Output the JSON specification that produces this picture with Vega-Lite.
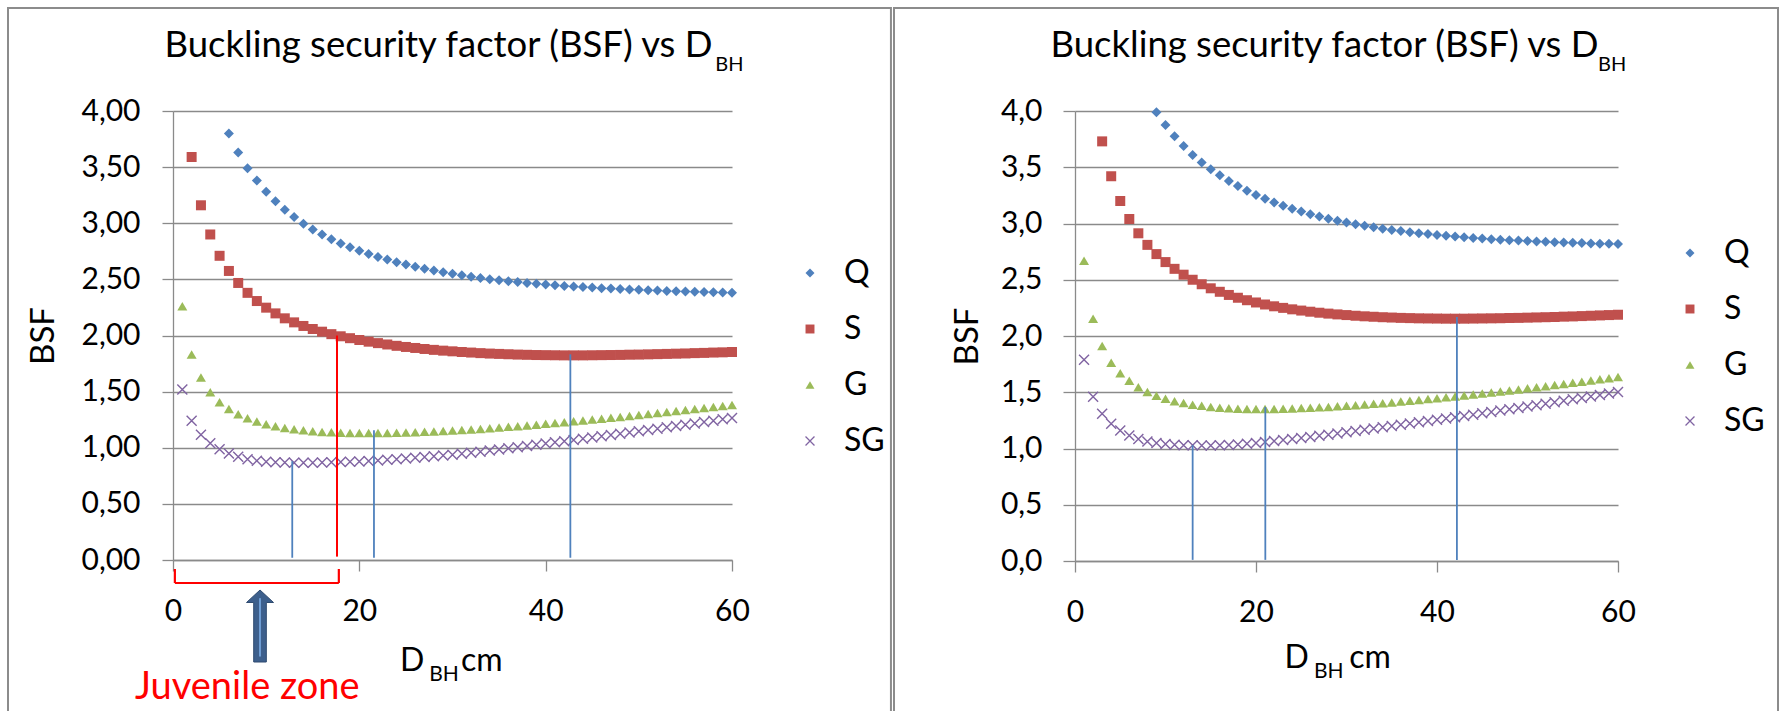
{
  "$schema": "https://vega.github.io/schema/vega-lite/v6.json",
  "background": "white",
  "padding": {"left": 7, "top": 6, "right": 0, "bottom": 0},
  "spacing": 1,
  "config": {
    "font": "Lato",
    "view": {"stroke": null},
    "axis": {
      "labelFont": "Lato", "labelColor": "black", "labelFontSize": 30,
      "titleFont": "Lato", "titleColor": "black", "titleFontWeight": "normal", "titleFontSize": 33,
      "domainColor": "#8a8a8a", "domainWidth": 1.3, "tickColor": "#8a8a8a", "tickWidth": 1.3,
      "gridColor": "#8a8a8a", "gridWidth": 1.3, "labelFlush": false
    },
    "legend": {"labelFont": "Lato", "labelFontSize": 32, "labelColor": "black", "padding": 0}
  },
  "datasets": {
    "one": [{}],
    "L": [
      {"series":"Q","D":6,"BSF":3.80},{"series":"Q","D":7,"BSF":3.63},{"series":"Q","D":8,"BSF":3.49},{"series":"Q","D":9,"BSF":3.38},{"series":"Q","D":10,"BSF":3.28},{"series":"Q","D":11,"BSF":3.195},{"series":"Q","D":12,"BSF":3.12},{"series":"Q","D":13,"BSF":3.055},{"series":"Q","D":14,"BSF":2.995},{"series":"Q","D":15,"BSF":2.945},{"series":"Q","D":16,"BSF":2.90},{"series":"Q","D":17,"BSF":2.857},{"series":"Q","D":18,"BSF":2.82},{"series":"Q","D":19,"BSF":2.787},{"series":"Q","D":20,"BSF":2.756},{"series":"Q","D":21,"BSF":2.727},{"series":"Q","D":22,"BSF":2.70},{"series":"Q","D":23,"BSF":2.676},{"series":"Q","D":24,"BSF":2.653},{"series":"Q","D":25,"BSF":2.632},{"series":"Q","D":26,"BSF":2.613},{"series":"Q","D":27,"BSF":2.595},{"series":"Q","D":28,"BSF":2.578},{"series":"Q","D":29,"BSF":2.563},{"series":"Q","D":30,"BSF":2.549},{"series":"Q","D":31,"BSF":2.536},{"series":"Q","D":32,"BSF":2.524},{"series":"Q","D":33,"BSF":2.513},{"series":"Q","D":34,"BSF":2.502},{"series":"Q","D":35,"BSF":2.493},{"series":"Q","D":36,"BSF":2.484},{"series":"Q","D":37,"BSF":2.476},{"series":"Q","D":38,"BSF":2.468},{"series":"Q","D":39,"BSF":2.461},{"series":"Q","D":40,"BSF":2.454},{"series":"Q","D":41,"BSF":2.448},{"series":"Q","D":42,"BSF":2.442},{"series":"Q","D":43,"BSF":2.437},{"series":"Q","D":44,"BSF":2.432},{"series":"Q","D":45,"BSF":2.427},{"series":"Q","D":46,"BSF":2.422},{"series":"Q","D":47,"BSF":2.418},{"series":"Q","D":48,"BSF":2.414},{"series":"Q","D":49,"BSF":2.41},{"series":"Q","D":50,"BSF":2.407},{"series":"Q","D":51,"BSF":2.403},{"series":"Q","D":52,"BSF":2.40},{"series":"Q","D":53,"BSF":2.397},{"series":"Q","D":54,"BSF":2.394},{"series":"Q","D":55,"BSF":2.392},{"series":"Q","D":56,"BSF":2.389},{"series":"Q","D":57,"BSF":2.387},{"series":"Q","D":58,"BSF":2.385},{"series":"Q","D":59,"BSF":2.383},{"series":"Q","D":60,"BSF":2.381},
      {"series":"S","D":2,"BSF":3.59},{"series":"S","D":3,"BSF":3.16},{"series":"S","D":4,"BSF":2.90},{"series":"S","D":5,"BSF":2.71},{"series":"S","D":6,"BSF":2.575},{"series":"S","D":7,"BSF":2.468},{"series":"S","D":8,"BSF":2.38},{"series":"S","D":9,"BSF":2.307},{"series":"S","D":10,"BSF":2.248},{"series":"S","D":11,"BSF":2.197},{"series":"S","D":12,"BSF":2.153},{"series":"S","D":13,"BSF":2.117},{"series":"S","D":14,"BSF":2.085},{"series":"S","D":15,"BSF":2.058},{"series":"S","D":16,"BSF":2.034},{"series":"S","D":17,"BSF":2.012},{"series":"S","D":18,"BSF":1.993},{"series":"S","D":19,"BSF":1.976},{"series":"S","D":20,"BSF":1.96},{"series":"S","D":21,"BSF":1.945},{"series":"S","D":22,"BSF":1.932},{"series":"S","D":23,"BSF":1.92},{"series":"S","D":24,"BSF":1.908},{"series":"S","D":25,"BSF":1.898},{"series":"S","D":26,"BSF":1.889},{"series":"S","D":27,"BSF":1.88},{"series":"S","D":28,"BSF":1.872},{"series":"S","D":29,"BSF":1.865},{"series":"S","D":30,"BSF":1.859},{"series":"S","D":31,"BSF":1.853},{"series":"S","D":32,"BSF":1.848},{"series":"S","D":33,"BSF":1.843},{"series":"S","D":34,"BSF":1.839},{"series":"S","D":35,"BSF":1.836},{"series":"S","D":36,"BSF":1.833},{"series":"S","D":37,"BSF":1.83},{"series":"S","D":38,"BSF":1.828},{"series":"S","D":39,"BSF":1.826},{"series":"S","D":40,"BSF":1.825},{"series":"S","D":41,"BSF":1.824},{"series":"S","D":42,"BSF":1.823},{"series":"S","D":43,"BSF":1.823},{"series":"S","D":44,"BSF":1.823},{"series":"S","D":45,"BSF":1.824},{"series":"S","D":46,"BSF":1.825},{"series":"S","D":47,"BSF":1.826},{"series":"S","D":48,"BSF":1.827},{"series":"S","D":49,"BSF":1.829},{"series":"S","D":50,"BSF":1.83},{"series":"S","D":51,"BSF":1.832},{"series":"S","D":52,"BSF":1.834},{"series":"S","D":53,"BSF":1.836},{"series":"S","D":54,"BSF":1.838},{"series":"S","D":55,"BSF":1.84},{"series":"S","D":56,"BSF":1.843},{"series":"S","D":57,"BSF":1.845},{"series":"S","D":58,"BSF":1.848},{"series":"S","D":59,"BSF":1.85},{"series":"S","D":60,"BSF":1.853},
      {"series":"G","D":1,"BSF":2.26},{"series":"G","D":2,"BSF":1.83},{"series":"G","D":3,"BSF":1.625},{"series":"G","D":4,"BSF":1.495},{"series":"G","D":5,"BSF":1.405},{"series":"G","D":6,"BSF":1.345},{"series":"G","D":7,"BSF":1.298},{"series":"G","D":8,"BSF":1.262},{"series":"G","D":9,"BSF":1.233},{"series":"G","D":10,"BSF":1.21},{"series":"G","D":11,"BSF":1.192},{"series":"G","D":12,"BSF":1.177},{"series":"G","D":13,"BSF":1.165},{"series":"G","D":14,"BSF":1.155},{"series":"G","D":15,"BSF":1.147},{"series":"G","D":16,"BSF":1.141},{"series":"G","D":17,"BSF":1.137},{"series":"G","D":18,"BSF":1.134},{"series":"G","D":19,"BSF":1.132},{"series":"G","D":20,"BSF":1.131},{"series":"G","D":21,"BSF":1.131},{"series":"G","D":22,"BSF":1.131},{"series":"G","D":23,"BSF":1.132},{"series":"G","D":24,"BSF":1.134},{"series":"G","D":25,"BSF":1.136},{"series":"G","D":26,"BSF":1.139},{"series":"G","D":27,"BSF":1.142},{"series":"G","D":28,"BSF":1.145},{"series":"G","D":29,"BSF":1.149},{"series":"G","D":30,"BSF":1.153},{"series":"G","D":31,"BSF":1.158},{"series":"G","D":32,"BSF":1.163},{"series":"G","D":33,"BSF":1.168},{"series":"G","D":34,"BSF":1.174},{"series":"G","D":35,"BSF":1.18},{"series":"G","D":36,"BSF":1.186},{"series":"G","D":37,"BSF":1.192},{"series":"G","D":38,"BSF":1.199},{"series":"G","D":39,"BSF":1.206},{"series":"G","D":40,"BSF":1.213},{"series":"G","D":41,"BSF":1.22},{"series":"G","D":42,"BSF":1.227},{"series":"G","D":43,"BSF":1.235},{"series":"G","D":44,"BSF":1.243},{"series":"G","D":45,"BSF":1.251},{"series":"G","D":46,"BSF":1.259},{"series":"G","D":47,"BSF":1.267},{"series":"G","D":48,"BSF":1.275},{"series":"G","D":49,"BSF":1.283},{"series":"G","D":50,"BSF":1.292},{"series":"G","D":51,"BSF":1.3},{"series":"G","D":52,"BSF":1.309},{"series":"G","D":53,"BSF":1.318},{"series":"G","D":54,"BSF":1.327},{"series":"G","D":55,"BSF":1.336},{"series":"G","D":56,"BSF":1.345},{"series":"G","D":57,"BSF":1.354},{"series":"G","D":58,"BSF":1.363},{"series":"G","D":59,"BSF":1.372},{"series":"G","D":60,"BSF":1.381},
      {"series":"SG","D":1,"BSF":1.52},{"series":"SG","D":2,"BSF":1.24},{"series":"SG","D":3,"BSF":1.115},{"series":"SG","D":4,"BSF":1.04},{"series":"SG","D":5,"BSF":0.987},{"series":"SG","D":6,"BSF":0.948},{"series":"SG","D":7,"BSF":0.919},{"series":"SG","D":8,"BSF":0.898},{"series":"SG","D":9,"BSF":0.884},{"series":"SG","D":10,"BSF":0.876},{"series":"SG","D":11,"BSF":0.871},{"series":"SG","D":12,"BSF":0.868},{"series":"SG","D":13,"BSF":0.867},{"series":"SG","D":14,"BSF":0.867},{"series":"SG","D":15,"BSF":0.867},{"series":"SG","D":16,"BSF":0.868},{"series":"SG","D":17,"BSF":0.87},{"series":"SG","D":18,"BSF":0.872},{"series":"SG","D":19,"BSF":0.875},{"series":"SG","D":20,"BSF":0.878},{"series":"SG","D":21,"BSF":0.882},{"series":"SG","D":22,"BSF":0.887},{"series":"SG","D":23,"BSF":0.892},{"series":"SG","D":24,"BSF":0.898},{"series":"SG","D":25,"BSF":0.904},{"series":"SG","D":26,"BSF":0.91},{"series":"SG","D":27,"BSF":0.917},{"series":"SG","D":28,"BSF":0.924},{"series":"SG","D":29,"BSF":0.931},{"series":"SG","D":30,"BSF":0.938},{"series":"SG","D":31,"BSF":0.947},{"series":"SG","D":32,"BSF":0.956},{"series":"SG","D":33,"BSF":0.965},{"series":"SG","D":34,"BSF":0.975},{"series":"SG","D":35,"BSF":0.985},{"series":"SG","D":36,"BSF":0.995},{"series":"SG","D":37,"BSF":1.005},{"series":"SG","D":38,"BSF":1.015},{"series":"SG","D":39,"BSF":1.026},{"series":"SG","D":40,"BSF":1.037},{"series":"SG","D":41,"BSF":1.048},{"series":"SG","D":42,"BSF":1.059},{"series":"SG","D":43,"BSF":1.07},{"series":"SG","D":44,"BSF":1.081},{"series":"SG","D":45,"BSF":1.092},{"series":"SG","D":46,"BSF":1.103},{"series":"SG","D":47,"BSF":1.114},{"series":"SG","D":48,"BSF":1.125},{"series":"SG","D":49,"BSF":1.136},{"series":"SG","D":50,"BSF":1.148},{"series":"SG","D":51,"BSF":1.159},{"series":"SG","D":52,"BSF":1.17},{"series":"SG","D":53,"BSF":1.182},{"series":"SG","D":54,"BSF":1.193},{"series":"SG","D":55,"BSF":1.205},{"series":"SG","D":56,"BSF":1.217},{"series":"SG","D":57,"BSF":1.229},{"series":"SG","D":58,"BSF":1.241},{"series":"SG","D":59,"BSF":1.253},{"series":"SG","D":60,"BSF":1.266}
    ],
    "R": [
      {"series":"Q","D":9,"BSF":3.99},{"series":"Q","D":10,"BSF":3.875},{"series":"Q","D":11,"BSF":3.775},{"series":"Q","D":12,"BSF":3.688},{"series":"Q","D":13,"BSF":3.61},{"series":"Q","D":14,"BSF":3.543},{"series":"Q","D":15,"BSF":3.483},{"series":"Q","D":16,"BSF":3.428},{"series":"Q","D":17,"BSF":3.378},{"series":"Q","D":18,"BSF":3.333},{"series":"Q","D":19,"BSF":3.292},{"series":"Q","D":20,"BSF":3.254},{"series":"Q","D":21,"BSF":3.219},{"series":"Q","D":22,"BSF":3.187},{"series":"Q","D":23,"BSF":3.158},{"series":"Q","D":24,"BSF":3.131},{"series":"Q","D":25,"BSF":3.106},{"series":"Q","D":26,"BSF":3.083},{"series":"Q","D":27,"BSF":3.062},{"series":"Q","D":28,"BSF":3.042},{"series":"Q","D":29,"BSF":3.024},{"series":"Q","D":30,"BSF":3.008},{"series":"Q","D":31,"BSF":2.993},{"series":"Q","D":32,"BSF":2.979},{"series":"Q","D":33,"BSF":2.966},{"series":"Q","D":34,"BSF":2.954},{"series":"Q","D":35,"BSF":2.943},{"series":"Q","D":36,"BSF":2.933},{"series":"Q","D":37,"BSF":2.923},{"series":"Q","D":38,"BSF":2.914},{"series":"Q","D":39,"BSF":2.906},{"series":"Q","D":40,"BSF":2.898},{"series":"Q","D":41,"BSF":2.891},{"series":"Q","D":42,"BSF":2.884},{"series":"Q","D":43,"BSF":2.878},{"series":"Q","D":44,"BSF":2.872},{"series":"Q","D":45,"BSF":2.866},{"series":"Q","D":46,"BSF":2.861},{"series":"Q","D":47,"BSF":2.856},{"series":"Q","D":48,"BSF":2.852},{"series":"Q","D":49,"BSF":2.848},{"series":"Q","D":50,"BSF":2.844},{"series":"Q","D":51,"BSF":2.84},{"series":"Q","D":52,"BSF":2.837},{"series":"Q","D":53,"BSF":2.834},{"series":"Q","D":54,"BSF":2.831},{"series":"Q","D":55,"BSF":2.828},{"series":"Q","D":56,"BSF":2.826},{"series":"Q","D":57,"BSF":2.823},{"series":"Q","D":58,"BSF":2.821},{"series":"Q","D":59,"BSF":2.819},{"series":"Q","D":60,"BSF":2.817},
      {"series":"S","D":3,"BSF":3.73},{"series":"S","D":4,"BSF":3.42},{"series":"S","D":5,"BSF":3.20},{"series":"S","D":6,"BSF":3.04},{"series":"S","D":7,"BSF":2.913},{"series":"S","D":8,"BSF":2.81},{"series":"S","D":9,"BSF":2.728},{"series":"S","D":10,"BSF":2.657},{"series":"S","D":11,"BSF":2.597},{"series":"S","D":12,"BSF":2.545},{"series":"S","D":13,"BSF":2.5},{"series":"S","D":14,"BSF":2.46},{"series":"S","D":15,"BSF":2.424},{"series":"S","D":16,"BSF":2.393},{"series":"S","D":17,"BSF":2.365},{"series":"S","D":18,"BSF":2.34},{"series":"S","D":19,"BSF":2.318},{"series":"S","D":20,"BSF":2.298},{"series":"S","D":21,"BSF":2.28},{"series":"S","D":22,"BSF":2.264},{"series":"S","D":23,"BSF":2.25},{"series":"S","D":24,"BSF":2.237},{"series":"S","D":25,"BSF":2.226},{"series":"S","D":26,"BSF":2.216},{"series":"S","D":27,"BSF":2.207},{"series":"S","D":28,"BSF":2.199},{"series":"S","D":29,"BSF":2.192},{"series":"S","D":30,"BSF":2.186},{"series":"S","D":31,"BSF":2.18},{"series":"S","D":32,"BSF":2.175},{"series":"S","D":33,"BSF":2.171},{"series":"S","D":34,"BSF":2.167},{"series":"S","D":35,"BSF":2.164},{"series":"S","D":36,"BSF":2.161},{"series":"S","D":37,"BSF":2.159},{"series":"S","D":38,"BSF":2.157},{"series":"S","D":39,"BSF":2.156},{"series":"S","D":40,"BSF":2.155},{"series":"S","D":41,"BSF":2.154},{"series":"S","D":42,"BSF":2.154},{"series":"S","D":43,"BSF":2.154},{"series":"S","D":44,"BSF":2.155},{"series":"S","D":45,"BSF":2.156},{"series":"S","D":46,"BSF":2.157},{"series":"S","D":47,"BSF":2.158},{"series":"S","D":48,"BSF":2.16},{"series":"S","D":49,"BSF":2.161},{"series":"S","D":50,"BSF":2.163},{"series":"S","D":51,"BSF":2.165},{"series":"S","D":52,"BSF":2.167},{"series":"S","D":53,"BSF":2.169},{"series":"S","D":54,"BSF":2.172},{"series":"S","D":55,"BSF":2.174},{"series":"S","D":56,"BSF":2.177},{"series":"S","D":57,"BSF":2.18},{"series":"S","D":58,"BSF":2.183},{"series":"S","D":59,"BSF":2.186},{"series":"S","D":60,"BSF":2.189},
      {"series":"G","D":1,"BSF":2.668},{"series":"G","D":2,"BSF":2.153},{"series":"G","D":3,"BSF":1.911},{"series":"G","D":4,"BSF":1.763},{"series":"G","D":5,"BSF":1.67},{"series":"G","D":6,"BSF":1.602},{"series":"G","D":7,"BSF":1.545},{"series":"G","D":8,"BSF":1.503},{"series":"G","D":9,"BSF":1.47},{"series":"G","D":10,"BSF":1.443},{"series":"G","D":11,"BSF":1.421},{"series":"G","D":12,"BSF":1.404},{"series":"G","D":13,"BSF":1.39},{"series":"G","D":14,"BSF":1.379},{"series":"G","D":15,"BSF":1.37},{"series":"G","D":16,"BSF":1.363},{"series":"G","D":17,"BSF":1.358},{"series":"G","D":18,"BSF":1.354},{"series":"G","D":19,"BSF":1.352},{"series":"G","D":20,"BSF":1.351},{"series":"G","D":21,"BSF":1.351},{"series":"G","D":22,"BSF":1.352},{"series":"G","D":23,"BSF":1.354},{"series":"G","D":24,"BSF":1.356},{"series":"G","D":25,"BSF":1.359},{"series":"G","D":26,"BSF":1.362},{"series":"G","D":27,"BSF":1.366},{"series":"G","D":28,"BSF":1.37},{"series":"G","D":29,"BSF":1.375},{"series":"G","D":30,"BSF":1.38},{"series":"G","D":31,"BSF":1.385},{"series":"G","D":32,"BSF":1.391},{"series":"G","D":33,"BSF":1.397},{"series":"G","D":34,"BSF":1.403},{"series":"G","D":35,"BSF":1.41},{"series":"G","D":36,"BSF":1.417},{"series":"G","D":37,"BSF":1.424},{"series":"G","D":38,"BSF":1.431},{"series":"G","D":39,"BSF":1.439},{"series":"G","D":40,"BSF":1.447},{"series":"G","D":41,"BSF":1.455},{"series":"G","D":42,"BSF":1.463},{"series":"G","D":43,"BSF":1.471},{"series":"G","D":44,"BSF":1.48},{"series":"G","D":45,"BSF":1.489},{"series":"G","D":46,"BSF":1.498},{"series":"G","D":47,"BSF":1.507},{"series":"G","D":48,"BSF":1.516},{"series":"G","D":49,"BSF":1.525},{"series":"G","D":50,"BSF":1.535},{"series":"G","D":51,"BSF":1.544},{"series":"G","D":52,"BSF":1.554},{"series":"G","D":53,"BSF":1.564},{"series":"G","D":54,"BSF":1.574},{"series":"G","D":55,"BSF":1.584},{"series":"G","D":56,"BSF":1.594},{"series":"G","D":57,"BSF":1.604},{"series":"G","D":58,"BSF":1.615},{"series":"G","D":59,"BSF":1.625},{"series":"G","D":60,"BSF":1.636},
      {"series":"SG","D":1,"BSF":1.79},{"series":"SG","D":2,"BSF":1.461},{"series":"SG","D":3,"BSF":1.308},{"series":"SG","D":4,"BSF":1.219},{"series":"SG","D":5,"BSF":1.16},{"series":"SG","D":6,"BSF":1.116},{"series":"SG","D":7,"BSF":1.084},{"series":"SG","D":8,"BSF":1.063},{"series":"SG","D":9,"BSF":1.048},{"series":"SG","D":10,"BSF":1.039},{"series":"SG","D":11,"BSF":1.033},{"series":"SG","D":12,"BSF":1.03},{"series":"SG","D":13,"BSF":1.028},{"series":"SG","D":14,"BSF":1.027},{"series":"SG","D":15,"BSF":1.027},{"series":"SG","D":16,"BSF":1.028},{"series":"SG","D":17,"BSF":1.031},{"series":"SG","D":18,"BSF":1.036},{"series":"SG","D":19,"BSF":1.042},{"series":"SG","D":20,"BSF":1.049},{"series":"SG","D":21,"BSF":1.057},{"series":"SG","D":22,"BSF":1.066},{"series":"SG","D":23,"BSF":1.075},{"series":"SG","D":24,"BSF":1.084},{"series":"SG","D":25,"BSF":1.093},{"series":"SG","D":26,"BSF":1.103},{"series":"SG","D":27,"BSF":1.113},{"series":"SG","D":28,"BSF":1.123},{"series":"SG","D":29,"BSF":1.134},{"series":"SG","D":30,"BSF":1.145},{"series":"SG","D":31,"BSF":1.156},{"series":"SG","D":32,"BSF":1.167},{"series":"SG","D":33,"BSF":1.178},{"series":"SG","D":34,"BSF":1.189},{"series":"SG","D":35,"BSF":1.2},{"series":"SG","D":36,"BSF":1.211},{"series":"SG","D":37,"BSF":1.222},{"series":"SG","D":38,"BSF":1.233},{"series":"SG","D":39,"BSF":1.244},{"series":"SG","D":40,"BSF":1.255},{"series":"SG","D":41,"BSF":1.266},{"series":"SG","D":42,"BSF":1.277},{"series":"SG","D":43,"BSF":1.289},{"series":"SG","D":44,"BSF":1.301},{"series":"SG","D":45,"BSF":1.313},{"series":"SG","D":46,"BSF":1.325},{"series":"SG","D":47,"BSF":1.337},{"series":"SG","D":48,"BSF":1.349},{"series":"SG","D":49,"BSF":1.361},{"series":"SG","D":50,"BSF":1.373},{"series":"SG","D":51,"BSF":1.385},{"series":"SG","D":52,"BSF":1.398},{"series":"SG","D":53,"BSF":1.411},{"series":"SG","D":54,"BSF":1.424},{"series":"SG","D":55,"BSF":1.437},{"series":"SG","D":56,"BSF":1.45},{"series":"SG","D":57,"BSF":1.463},{"series":"SG","D":58,"BSF":1.476},{"series":"SG","D":59,"BSF":1.489},{"series":"SG","D":60,"BSF":1.502}
    ],
    "Lmin": [{"D":12.8,"top":0.88},{"D":21.57,"top":1.155},{"D":42.65,"top":1.832}],
    "Rmin": [{"D":13.0,"top":1.03},{"D":21.03,"top":1.37},{"D":42.2,"top":2.17}]
  },
  "resolve": {
    "scale": {"x": "independent", "y": "independent", "color": "independent", "shape": "independent"},
    "legend": {"color": "independent", "shape": "independent"}
  },
  "hconcat": [
    {
      "width": 559,
      "height": 449,
      "title": {"text": "Buckling security factor (BSF) vs D", "frame": "group", "anchor": "middle", "font": "Lato", "fontSize": 36.5, "fontWeight": "normal", "color": "black", "dx": -14, "offset": -58},
      "layer": [
        {
          "data": {"name": "one"},
          "mark": {"type": "rect", "fill": null, "stroke": "#8c8c8c", "strokeWidth": 2},
          "encoding": {
            "x": {"datum": -17.71, "type": "quantitative", "scale": {"domain": [0, 60], "nice": false, "zero": false}},
            "x2": {"datum": 77.06},
            "y": {"datum": 4.918, "type": "quantitative", "scale": {"domain": [0, 4], "nice": false, "zero": false}},
            "y2": {"datum": -1.52}
          }
        },
        {
          "data": {"name": "L"},
          "mark": {"type": "point", "filled": true, "opacity": 1, "size": 100},
          "encoding": {
            "x": {"field": "D", "type": "quantitative", "scale": {"domain": [0, 60], "nice": false, "zero": false},
                  "axis": {"values": [0, 20, 40, 60], "grid": false, "title": null, "tickSize": 11, "labelPadding": 25, "format": "d", "labelFlush": false}},
            "y": {"field": "BSF", "type": "quantitative", "scale": {"domain": [0, 4], "nice": false, "zero": false},
                  "axis": {"values": [0, 0.5, 1, 1.5, 2, 2.5, 3, 3.5, 4], "grid": true, "title": "BSF", "tickSize": 11, "labelPadding": 22, "titlePadding": 20,
                           "labelExpr": "replace(format(datum.value, '.2f'), '.', ',')"}},
            "color": {"field": "series", "type": "nominal",
                      "scale": {"domain": ["Q", "S", "G", "SG"], "range": ["#4F81BD", "#C0504D", "#9BBB59", "#8064A2"]},
                      "legend": {"orient": "none", "legendX": 621, "legendY": 146, "title": null, "symbolSize": 80, "rowPadding": 24, "labelOffset": 18, "labelFontSize": 32}},
            "shape": {"field": "series", "type": "nominal",
                      "scale": {"domain": ["Q", "S", "G", "SG"], "range": ["diamond", "square", "M 0 -0.85 L 1 0.85 L -1 0.85 Z", "M -0.9 -1.1 L 1.1 0.9 L 0.9 1.1 L -1.1 -0.9 Z M 1.1 -0.9 L -0.9 1.1 L -1.1 0.9 L 0.9 -1.1 Z"]},
                      "legend": {"orient": "none", "legendX": 621, "legendY": 146, "title": null, "symbolSize": 80, "rowPadding": 24, "labelOffset": 18, "labelFontSize": 32}}
          }
        },
        {
          "data": {"name": "Lmin"},
          "mark": {"type": "rule", "color": "#4F81BD", "strokeWidth": 1.8},
          "encoding": {"x": {"field": "D", "type": "quantitative"}, "y": {"field": "top", "type": "quantitative"}, "y2": {"datum": 0.02}}
        },
        {
          "data": {"name": "one"},
          "mark": {"type": "rule", "color": "#FF0000", "strokeWidth": 2},
          "encoding": {"x": {"datum": 17.6, "type": "quantitative"}, "y": {"datum": 2.0, "type": "quantitative"}, "y2": {"datum": 0.03}}
        },
        {
          "data": {"name": "one"},
          "mark": {"type": "rule", "color": "#FF0000", "strokeWidth": 2.2},
          "encoding": {"x": {"datum": 0.2, "type": "quantitative"}, "x2": {"datum": 17.8}, "y": {"datum": -0.205, "type": "quantitative"}}
        },
        {
          "data": {"name": "one"},
          "mark": {"type": "rule", "color": "#FF0000", "strokeWidth": 2.2},
          "encoding": {"x": {"datum": 0.2, "type": "quantitative"}, "y": {"datum": -0.08, "type": "quantitative"}, "y2": {"datum": -0.205}}
        },
        {
          "data": {"name": "one"},
          "mark": {"type": "rule", "color": "#FF0000", "strokeWidth": 2.2},
          "encoding": {"x": {"datum": 17.8, "type": "quantitative"}, "y": {"datum": -0.08, "type": "quantitative"}, "y2": {"datum": -0.205}}
        },
        {
          "data": {"name": "one"},
          "mark": {"type": "point", "filled": true, "opacity": 1, "size": 5184, "color": "#3D5F8C", "stroke": "#2F4B70", "strokeWidth": 1,
                   "shape": "M 0 -1 L 0.375 -0.653 L 0.175 -0.653 L 0.175 1 L -0.175 1 L -0.175 -0.653 L -0.375 -0.653 Z"},
          "encoding": {"x": {"datum": 9.34, "type": "quantitative"}, "y": {"datum": -0.588, "type": "quantitative"}}
        },
        {
          "data": {"name": "one"},
          "mark": {"type": "rule", "color": "#6E9DD4", "strokeWidth": 2},
          "encoding": {"x": {"datum": 9.34, "type": "quantitative"}, "y": {"datum": -0.34, "type": "quantitative"}, "y2": {"datum": -0.86}}
        },
        {
          "data": {"name": "one"},
          "mark": {"type": "text", "text": "Juvenile zone", "font": "Lato", "fontSize": 38, "color": "#FF0000", "align": "left", "baseline": "alphabetic"},
          "encoding": {"x": {"datum": -4.08, "type": "quantitative"}, "y": {"datum": -1.238, "type": "quantitative"}}
        },
        {
          "data": {"name": "one"},
          "mark": {"type": "text", "text": "BH", "font": "Lato", "fontSize": 20, "color": "black", "align": "left", "baseline": "alphabetic"},
          "encoding": {"x": {"datum": 58.2, "type": "quantitative"}, "y": {"datum": 4.356, "type": "quantitative"}}
        },
        {
          "data": {"name": "one"},
          "mark": {"type": "text", "text": "D", "font": "Lato", "fontSize": 32, "color": "black", "align": "left", "baseline": "alphabetic"},
          "encoding": {"x": {"datum": 24.36, "type": "quantitative"}, "y": {"datum": -0.989, "type": "quantitative"}}
        },
        {
          "data": {"name": "one"},
          "mark": {"type": "text", "text": "BH", "font": "Lato", "fontSize": 21, "color": "black", "align": "left", "baseline": "alphabetic"},
          "encoding": {"x": {"datum": 27.5, "type": "quantitative"}, "y": {"datum": -1.078, "type": "quantitative"}}
        },
        {
          "data": {"name": "one"},
          "mark": {"type": "text", "text": "cm", "font": "Lato", "fontSize": 32, "color": "black", "align": "left", "baseline": "alphabetic"},
          "encoding": {"x": {"datum": 30.9, "type": "quantitative"}, "y": {"datum": -0.989, "type": "quantitative"}}
        }
      ]
    },
    {
      "width": 543,
      "height": 450,
      "title": {"text": "Buckling security factor (BSF) vs D", "frame": "group", "anchor": "middle", "font": "Lato", "fontSize": 36.5, "fontWeight": "normal", "color": "black", "dx": -22, "offset": -58},
      "layer": [
        {
          "data": {"name": "one"},
          "mark": {"type": "rect", "fill": null, "stroke": "#8c8c8c", "strokeWidth": 2},
          "encoding": {
            "x": {"datum": -20.0, "type": "quantitative", "scale": {"domain": [0, 60], "nice": false, "zero": false}},
            "x2": {"datum": 77.68},
            "y": {"datum": 4.916, "type": "quantitative", "scale": {"domain": [0, 4], "nice": false, "zero": false}},
            "y2": {"datum": -1.5}
          }
        },
        {
          "data": {"name": "R"},
          "mark": {"type": "point", "filled": true, "opacity": 1, "size": 100},
          "encoding": {
            "x": {"field": "D", "type": "quantitative", "scale": {"domain": [0, 60], "nice": false, "zero": false},
                  "axis": {"values": [0, 20, 40, 60], "grid": false, "title": null, "tickSize": 11, "labelPadding": 25, "format": "d", "labelFlush": false}},
            "y": {"field": "BSF", "type": "quantitative", "scale": {"domain": [0, 4], "nice": false, "zero": false},
                  "axis": {"values": [0, 0.5, 1, 1.5, 2, 2.5, 3, 3.5, 4], "grid": true, "title": "BSF", "tickSize": 12, "labelPadding": 21, "titlePadding": 16,
                           "labelExpr": "replace(format(datum.value, '.1f'), '.', ',')"}},
            "color": {"field": "series", "type": "nominal",
                      "scale": {"domain": ["Q", "S", "G", "SG"], "range": ["#4F81BD", "#C0504D", "#9BBB59", "#8064A2"]},
                      "legend": {"orient": "none", "legendX": 599, "legendY": 126, "title": null, "symbolSize": 80, "rowPadding": 24, "labelOffset": 18, "labelFontSize": 32}},
            "shape": {"field": "series", "type": "nominal",
                      "scale": {"domain": ["Q", "S", "G", "SG"], "range": ["diamond", "square", "M 0 -0.85 L 1 0.85 L -1 0.85 Z", "M -0.9 -1.1 L 1.1 0.9 L 0.9 1.1 L -1.1 -0.9 Z M 1.1 -0.9 L -0.9 1.1 L -1.1 0.9 L 0.9 -1.1 Z"]},
                      "legend": {"orient": "none", "legendX": 599, "legendY": 126, "title": null, "symbolSize": 80, "rowPadding": 24, "labelOffset": 18, "labelFontSize": 32}}
          }
        },
        {
          "data": {"name": "Rmin"},
          "mark": {"type": "rule", "color": "#4F81BD", "strokeWidth": 1.8},
          "encoding": {"x": {"field": "D", "type": "quantitative"}, "y": {"field": "top", "type": "quantitative"}, "y2": {"datum": 0.01}}
        },
        {
          "data": {"name": "one"},
          "mark": {"type": "text", "text": "BH", "font": "Lato", "fontSize": 20, "color": "black", "align": "left", "baseline": "alphabetic"},
          "encoding": {"x": {"datum": 57.8, "type": "quantitative"}, "y": {"datum": 4.356, "type": "quantitative"}}
        },
        {
          "data": {"name": "one"},
          "mark": {"type": "text", "text": "D", "font": "Lato", "fontSize": 32, "color": "black", "align": "left", "baseline": "alphabetic"},
          "encoding": {"x": {"datum": 23.16, "type": "quantitative"}, "y": {"datum": -0.948, "type": "quantitative"}}
        },
        {
          "data": {"name": "one"},
          "mark": {"type": "text", "text": "BH", "font": "Lato", "fontSize": 21, "color": "black", "align": "left", "baseline": "alphabetic"},
          "encoding": {"x": {"datum": 26.4, "type": "quantitative"}, "y": {"datum": -1.04, "type": "quantitative"}}
        },
        {
          "data": {"name": "one"},
          "mark": {"type": "text", "text": "cm", "font": "Lato", "fontSize": 32, "color": "black", "align": "left", "baseline": "alphabetic"},
          "encoding": {"x": {"datum": 30.3, "type": "quantitative"}, "y": {"datum": -0.948, "type": "quantitative"}}
        }
      ]
    }
  ]
}
